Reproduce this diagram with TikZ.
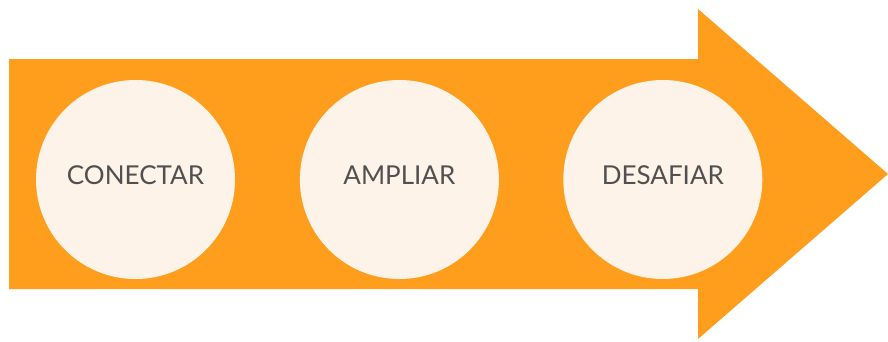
\documentclass[tikz,border=0pt]{standalone}
\usepackage{fontspec}
\setmainfont{Lato}
\usepackage{tikz}
\usetikzlibrary{positioning}
\definecolor{arroworange}{HTML}{FF9E1C}
\definecolor{cream}{HTML}{FEF3E9}
\definecolor{darkgray}{HTML}{505050}

\begin{document}
\begin{tikzpicture}[x=1pt,y=1pt,node distance=64.5pt,
  every node/.style={font=\fontsize{26}{30}\selectfont,text=darkgray,align=center},
  stage/.style={circle,fill=cream,minimum size=199pt,inner sep=0pt,text depth=8pt}]
\useasboundingbox (0,0) rectangle (888,341);
\fill[arroworange] (9,52) -- (698,52) -- (698,2) -- (888,167) -- (698,332) -- (698,282) -- (9,282) -- cycle;
\node[stage] (c1) at (135.5,161.5) {CONECTAR};
\node[stage,right=of c1] (c2) {AMPLIAR};
\node[stage,right=64pt of c2] (c3) {DESAFIAR};
\end{tikzpicture}
\end{document}
